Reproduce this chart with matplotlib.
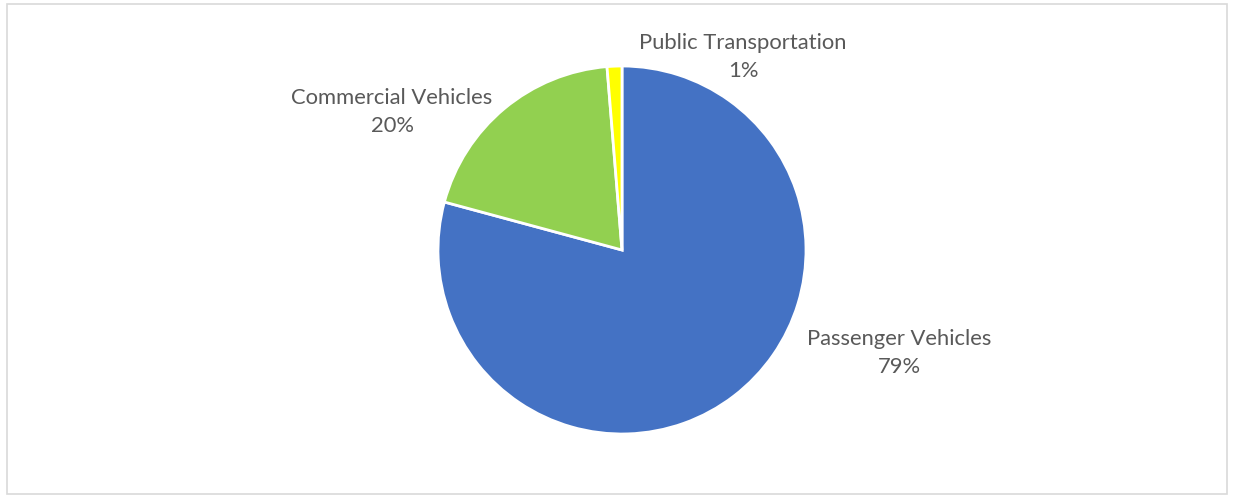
import numpy as np
import matplotlib.pyplot as plt
from matplotlib.patches import Rectangle

categories = ["Passenger Vehicles", "Commercial Vehicles", "Public Transportation"]
shares = [79.2, 19.5, 1.3]
colors = ["#4472C4", "#92D050", "#FFFF00"]

# label anchor points (pixels, from top-left)
label_pos = [(899, 353), (392, 112), (743, 57)]

fig = plt.figure(figsize=(12.33, 4.96), dpi=100)
ax = fig.add_axes([0, 0, 1, 1])

ax.pie(shares, colors=colors, startangle=90, counterclock=False,
       center=(622, 496 - 250), radius=184,
       wedgeprops=dict(edgecolor="white", linewidth=2))
ax.set_xlim(0, 1233)
ax.set_ylim(0, 496)
ax.set_aspect("equal")
ax.axis("off")

for name, val, (x, y) in zip(categories, shares, label_pos):
    ax.text(x, 496 - y, f"{name}\n{val:.0f}%", ha="center", va="center",
            fontsize=15.8, family="Lato", color="#595959", linespacing=1.5)

# light grey chart frame
fig.patches.append(Rectangle((6.5 / 1233, 2.5 / 496), 1220 / 1233, 490 / 496,
                             transform=fig.transFigure, fill=False,
                             edgecolor="#D9D9D9", linewidth=1.2))

fig.savefig("out.png", dpi=100)
